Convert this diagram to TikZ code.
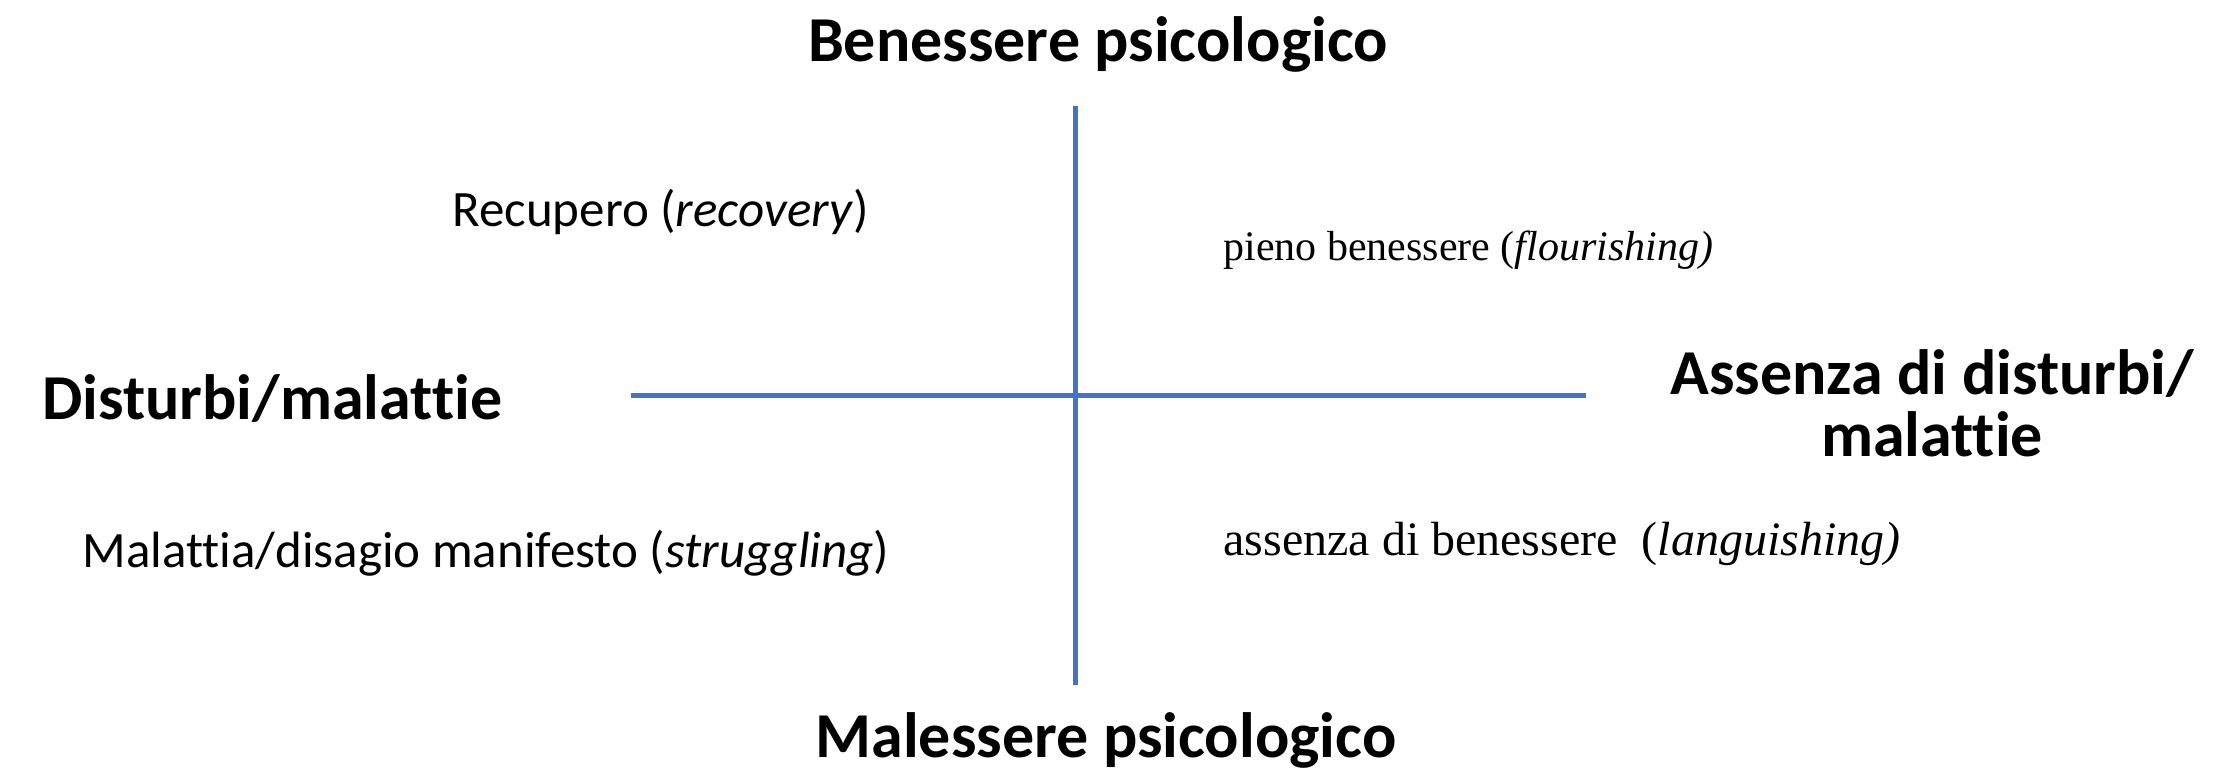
\documentclass[tikz,border=0pt]{standalone}
\usepackage{fontspec}
\setmainfont[Ligatures={TeX,NoCommon}]{Carlito}
\newfontfamily\timesfont{Liberation Serif}
\usepackage{xcolor}
\definecolor{axisblue}{HTML}{4472C4}
\usetikzlibrary{positioning}

\begin{document}
\begin{tikzpicture}[x=0.5pt,y=-0.5pt,
  axis/.style={line width=2.5pt, axisblue},
  title/.style={font=\fontsize{32}{31}\selectfont\bfseries, inner sep=0pt},
  quadsans/.style={font=\fontsize{25.5}{30}\selectfont, inner sep=0pt, anchor=west},
  quadserif/.style={inner sep=0pt, anchor=west}]
\useasboundingbox[fill=white] (0,0) rectangle (2214,770);
% axes
\coordinate (top) at (1075,106);
\coordinate (bottom) at (1075,685);
\coordinate (left) at (631,395);
\coordinate (right) at (1586,395);
\draw[axis] (top) -- (bottom);
\draw[axis] (left) -- (right);
% axis labels
\node[title] (benessere) at (1098,44) {Benessere psicologico};
\node[title] (malessere) at (1106,740) {Malessere psicologico};
\node[title, anchor=west] (disturbi) at (42,398) {Disturbi/malattie};
\node[title, align=center] (assenza) at (1932,403) {Assenza di disturbi/\\malattie};
% quadrants
\node[quadsans] (recovery) at (452,212) {Recupero (\textit{recovery})};
\node[quadserif, font=\timesfont\fontsize{21}{25}\selectfont] (flourishing) at (1223,250) {pieno benessere (\textit{flourishing)}};
\node[quadsans] (struggling) at (82,553) {Malattia/disagio manifesto (\textit{struggling})};
\node[quadserif, font=\timesfont\fontsize{24}{28}\selectfont] (languishing) at (1223,544) {assenza di benessere\ \ (\textit{languishing)}};
\end{tikzpicture}
\end{document}
